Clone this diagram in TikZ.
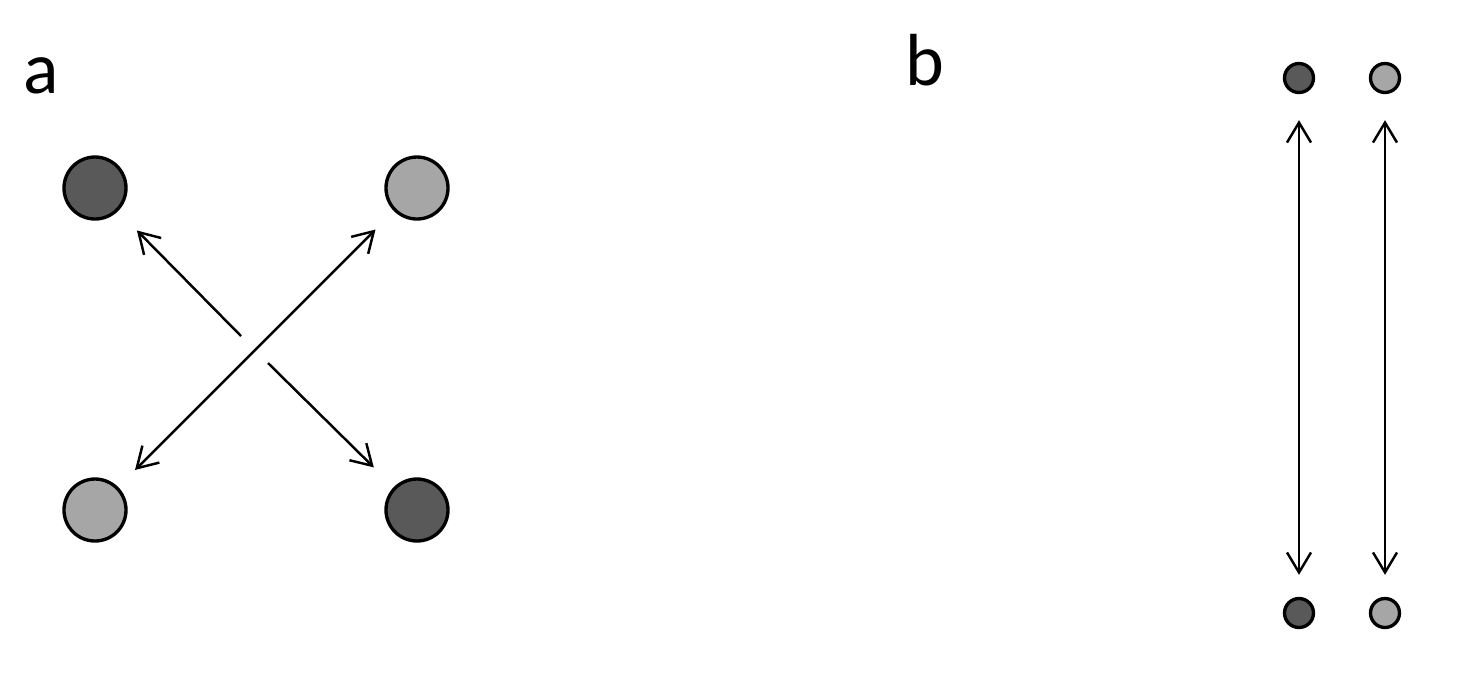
\documentclass[tikz,border=0pt]{standalone}
\usepackage{fontspec}
\setmainfont{Carlito}
\usepackage{xcolor}
\usepackage{tikz}
\usetikzlibrary{positioning,arrows.meta}
\definecolor{darkdot}{HTML}{595959}
\definecolor{lightdot}{HTML}{A6A6A6}
\tikzset{
	panel/.style = {
		font=\fontsize{21}{25}\selectfont, inner sep=0pt
	}
}
\begin{document}
\begin{tikzpicture}[
		on grid,
        big/.style = {circle, draw, line width=0.95pt, inner sep=0pt, minimum size=0.62cm},
        small/.style = {circle, draw, line width=0.95pt, inner sep=0pt, minimum size=0.29cm},
        arr/.style = {line width=0.7pt, -{Straight Barb[length=0.2cm,width=0.24cm]}},
        darr/.style = {line width=0.7pt, {Straight Barb[length=0.2cm,width=0.24cm]}-{Straight Barb[length=0.2cm,width=0.24cm]}}
    ]
    \useasboundingbox (0,0) rectangle (14.6,-6.77);

    % panel a
    \node[panel, anchor=base west] (la) at (0.23,-0.93) {a};
    \node[big, fill=darkdot] (tl) at (0.95,-1.88) {};
    \node[big, fill=lightdot, right = 3.22cm of tl] (tr) {};
    \node[big, fill=lightdot, below = 3.22cm of tl] (bl) {};
    \node[big, fill=darkdot, right = 3.22cm of bl] (br) {};
    \coordinate (gapA) at (2.41,-3.36);
    \coordinate (gapB) at (2.68,-3.63);

    \draw[arr, shorten >=0.27cm] (gapA) -- (tl);
    \draw[arr, shorten >=0.28cm] (gapB) -- (br);
    \draw[darr, shorten <=0.24cm, shorten >=0.26cm] (bl) -- (tr);

    % panel b
    \node[panel, anchor=base west] (lb) at (9.05,-0.85) {b};
    \node[small, fill=darkdot] (t1) at (12.99,-0.78) {};
    \node[small, fill=lightdot, right = 0.86cm of t1] (t2) {};
    \node[small, fill=darkdot, below = 5.35cm of t1] (b1) {};
    \node[small, fill=lightdot, right = 0.86cm of b1] (b2) {};

    \draw[darr, shorten <=0.26cm, shorten >=0.22cm] (t1) -- (b1);
    \draw[darr, shorten <=0.26cm, shorten >=0.22cm] (t2) -- (b2);

\end{tikzpicture}
\end{document}
